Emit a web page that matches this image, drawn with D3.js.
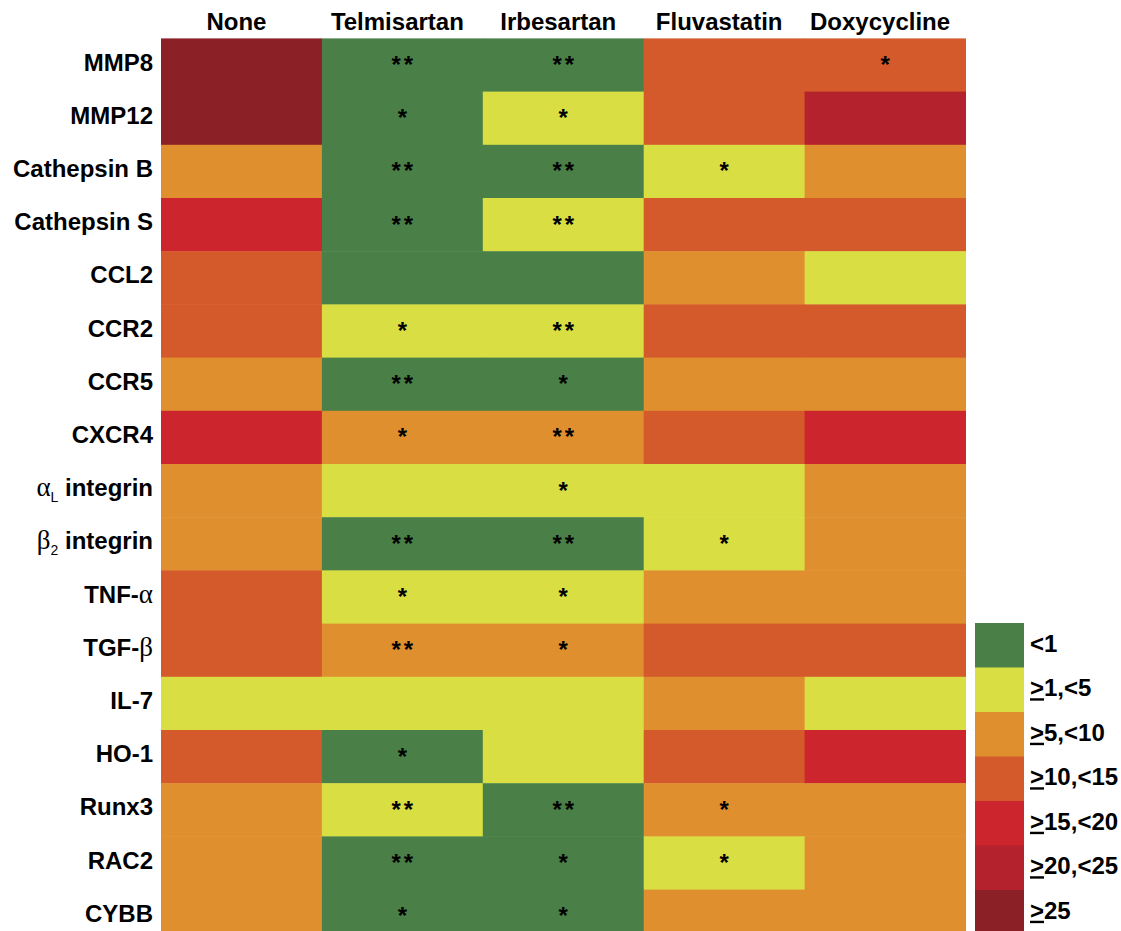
<!DOCTYPE html>
<html>
<head>
<meta charset="utf-8">
<script src="https://cdn.jsdelivr.net/npm/d3@7"></script>
<style>
  html, body { margin: 0; padding: 0; background: #fff; }
  svg { display: block; }
  text { font-family: "Liberation Sans", Arial, Helvetica, sans-serif; fill: #000; }
</style>
</head>
<body>
<svg id="chart" width="1121" height="931"></svg>
<script>
// Treatment groups (columns)
const treatments = ["None", "Telmisartan", "Irbesartan", "Fluvastatin", "Doxycycline"];

// Genes (rows); "_X" marks a subscript
const genes = ["MMP8", "MMP12", "Cathepsin B", "Cathepsin S", "CCL2", "CCR2", "CCR5", "CXCR4",
  "α_L integrin", "β_2 integrin", "TNF-α", "TGF-β", "IL-7", "HO-1", "Runx3", "RAC2", "CYBB"];

// Fold-change class per gene (index into legend classes), one array per treatment
const levelNone        = [6, 6, 2, 4, 3, 3, 2, 4, 2, 2, 3, 3, 1, 3, 2, 2, 2];
const levelTelmisartan = [0, 0, 0, 0, 0, 1, 0, 2, 1, 0, 1, 2, 1, 0, 1, 0, 0];
const levelIrbesartan  = [0, 1, 0, 1, 0, 1, 0, 2, 1, 0, 1, 2, 1, 1, 0, 0, 0];
const levelFluvastatin = [3, 3, 1, 3, 2, 3, 2, 3, 1, 1, 2, 3, 2, 3, 2, 1, 2];
const levelDoxycycline = [3, 5, 2, 3, 1, 3, 2, 4, 2, 2, 2, 3, 1, 4, 2, 2, 2];

// Significance markers vs. untreated
const sigNone        = ["", "", "", "", "", "", "", "", "", "", "", "", "", "", "", "", ""];
const sigTelmisartan = ["**", "*", "**", "**", "", "*", "**", "*", "", "**", "*", "**", "", "*", "**", "**", "*"];
const sigIrbesartan  = ["**", "*", "**", "**", "", "**", "*", "**", "*", "**", "*", "*", "", "", "**", "*", "*"];
const sigFluvastatin = ["", "", "*", "", "", "", "", "", "", "*", "", "", "", "", "*", "*", ""];
const sigDoxycycline = ["*", "", "", "", "", "", "", "", "", "", "", "", "", "", "", "", ""];

// Legend classes ("≥" is drawn as an underlined ">")
const classLabels = ["<1", "≥1,<5", "≥5,<10", "≥10,<15", "≥15,<20", "≥20,<25", "≥25"];
const classColors = ["#4A8047", "#D9DF43", "#E08F2F", "#D45A2B", "#CD252D", "#B4232D", "#8B2127"];

const levelsByTreatment = [levelNone, levelTelmisartan, levelIrbesartan, levelFluvastatin, levelDoxycycline];
const sigByTreatment = [sigNone, sigTelmisartan, sigIrbesartan, sigFluvastatin, sigDoxycycline];

const cells = [];
genes.forEach((g, i) => {
  treatments.forEach((t, j) => {
    cells.push({ gene: g, treatment: t, level: levelsByTreatment[j][i], sig: sigByTreatment[j][i] });
  });
});

const svg = d3.select("#chart");

const rowH = 53.2;
const gridTop = 38.4;
const x = d3.scaleBand().domain(treatments).range([161, 965.5]);
const y = d3.scaleBand().domain(genes).range([gridTop, gridTop + rowH * genes.length]);
const color = d3.scaleOrdinal().domain(d3.range(classLabels.length)).range(classColors);

// Heatmap cells
svg.append("g")
  .selectAll("rect")
  .data(cells)
  .join("rect")
  .attr("x", d => x(d.treatment))
  .attr("y", d => y(d.gene))
  .attr("width", x.bandwidth() + 0.5)
  .attr("height", y.bandwidth() + 0.5)
  .attr("fill", d => color(d.level));

// Significance stars (letter-spacing trails each glyph, so nudge right by half of it)
const starGap = 3;
svg.append("g")
  .selectAll("text")
  .data(cells.filter(d => d.sig))
  .join("text")
  .attr("x", d => x(d.treatment) + x.bandwidth() / 2 + starGap / 2)
  .attr("y", d => y(d.gene) + y.bandwidth() / 2 + 8)
  .attr("text-anchor", "middle")
  .style("font-size", "24px")
  .style("font-weight", "bold")
  .style("letter-spacing", starGap + "px")
  .text(d => d.sig);

// Column headers
svg.append("g")
  .selectAll("text")
  .data(treatments)
  .join("text")
  .attr("x", d => x(d) + x.bandwidth() / 2 - 5)
  .attr("y", 30)
  .attr("text-anchor", "middle")
  .style("font-size", "24px")
  .style("font-weight", "bold")
  .text(d => d);

// Row labels with Greek letters and subscripts
const greek = /[αβ]/;
const rowLabels = svg.append("g")
  .selectAll("text")
  .data(genes)
  .join("text")
  .attr("x", 153)
  .attr("y", d => y(d) + y.bandwidth() / 2 + 5.5)
  .attr("text-anchor", "end")
  .style("font-size", "24px")
  .style("font-weight", "bold");

rowLabels.each(function(d) {
  const t = d3.select(this);
  // split into greek letters, subscripts and plain runs
  const tokens = d.match(/_.|[αβ]|[^αβ_]+/g);
  let shifted = false;
  tokens.forEach(tok => {
    if (tok.startsWith("_")) {
      t.append("tspan").attr("dy", 6).style("font-size", "14px").style("font-weight", "normal").text(tok.slice(1));
      shifted = true;
    } else if (greek.test(tok)) {
      t.append("tspan").attr("dy", shifted ? -6 : 0)
        .style("font-family", "'Liberation Serif', 'Times New Roman', serif")
        .style("font-weight", "normal").style("font-size", "27px").text(tok);
      shifted = false;
    } else {
      t.append("tspan").attr("dy", shifted ? -6 : 0).text(tok);
      shifted = false;
    }
  });
});

// Legend
const ly = d3.scaleBand().domain(d3.range(classLabels.length)).range([623, 623 + 44.5 * classLabels.length]);
const legend = svg.append("g");
legend.selectAll("rect")
  .data(d3.range(classLabels.length))
  .join("rect")
  .attr("x", 975)
  .attr("y", d => ly(d))
  .attr("width", 49)
  .attr("height", ly.bandwidth() + 0.5)
  .attr("fill", d => color(d));

legend.selectAll("text")
  .data(d3.range(classLabels.length))
  .join("text")
  .attr("x", 1030)
  .attr("y", d => ly(d) + ly.bandwidth() / 2 + 6.5)
  .style("font-size", "24px")
  .style("font-weight", "bold")
  .each(function(d) {
    const t = d3.select(this);
    const label = classLabels[d];
    label.split(/(≥)/).filter(s => s).forEach(part => {
      if (part === "≥") {
        t.append("tspan").style("text-decoration", "underline").text(">");
      } else {
        t.append("tspan").text(part);
      }
    });
  });
</script>
</body>
</html>
